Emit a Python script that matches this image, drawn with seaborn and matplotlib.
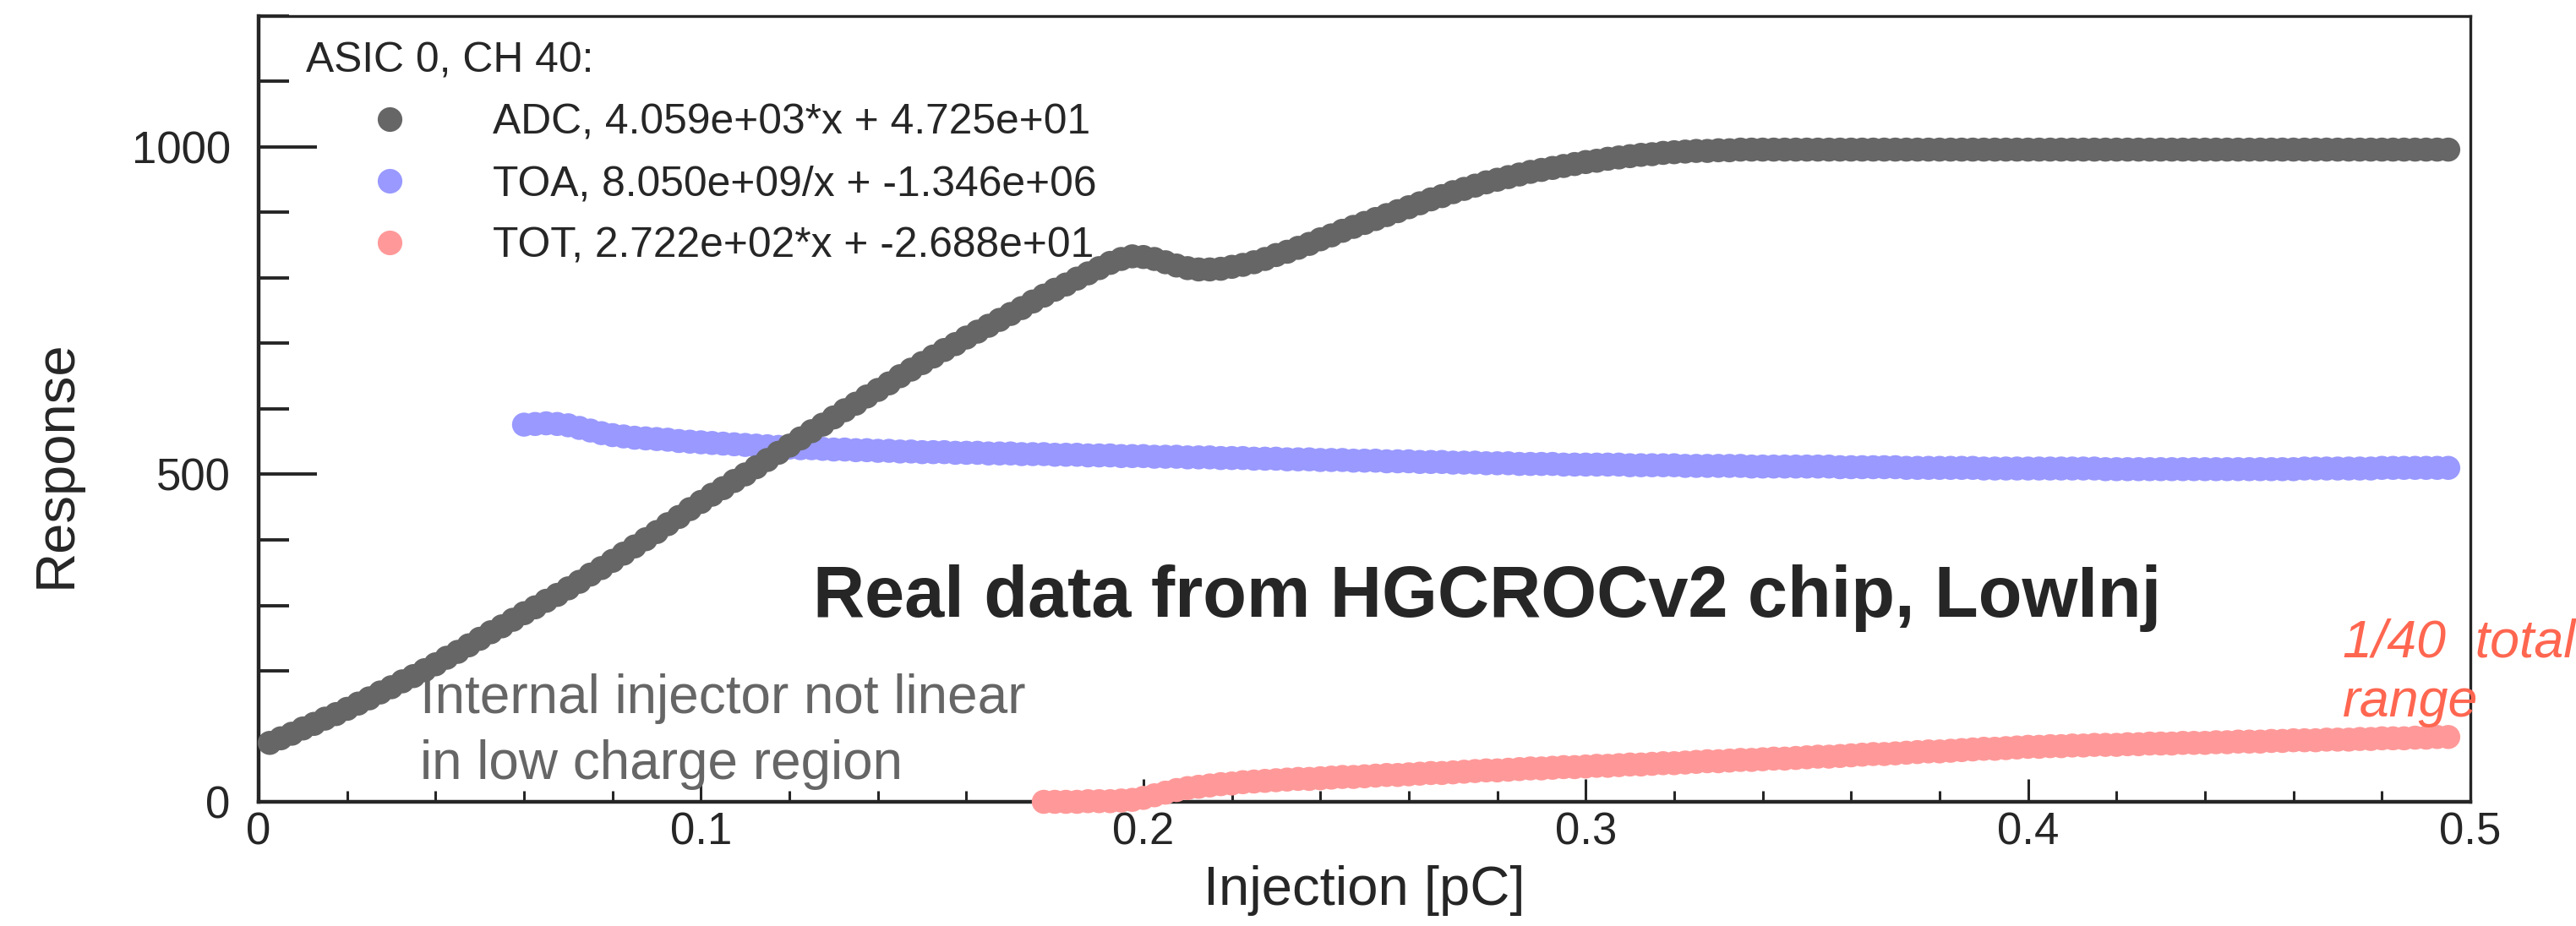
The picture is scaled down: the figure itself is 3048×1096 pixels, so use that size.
import numpy as np
import pandas as pd
import matplotlib
matplotlib.use("Agg")
import matplotlib.pyplot as plt
import seaborn as sns
from matplotlib.lines import Line2D
from matplotlib.ticker import MultipleLocator, FuncFormatter

# injection scan: one point every 0.0025 pC, series start at different scan steps
INJ_STEP = 0.0025

adc_start = 1
adc = [
    90, 97, 104, 112, 119, 127, 134, 142, 150, 158,
    167, 175, 184, 192, 201, 210, 220, 229, 239, 249,
    259, 268, 278, 288, 297, 307, 316, 326, 336, 347,
    357, 368, 379, 390, 401, 412, 424, 435, 447, 458,
    469, 479, 490, 500, 511, 522, 533, 544, 555, 566,
    576, 587, 598, 608, 619, 629, 639, 650, 660, 670,
    680, 690, 699, 709, 718, 727, 736, 745, 754, 764,
    773, 782, 790, 799, 807, 815, 823, 829, 833, 832,
    829, 824, 819, 815, 813, 813, 814, 817, 820, 824,
    829, 835, 840, 846, 852, 859, 865, 872, 878, 884,
    890, 896, 902, 908, 914, 920, 925, 931, 936, 941,
    946, 950, 954, 958, 962, 965, 968, 971, 974, 977,
    979, 982, 984, 986, 988, 989, 991, 992, 993, 994,
    994, 995, 995, 996, 996, 996, 996, 996, 996, 996,
    996, 996, 996, 996, 996, 996, 996, 996, 996, 996,
    996, 996, 996, 996, 996, 996, 996, 996, 996, 996,
    996, 996, 996, 996, 996, 996, 996, 996, 996, 996,
    996, 996, 996, 996, 996, 996, 996, 996, 996, 996,
    996, 996, 996, 996, 996, 996, 996, 996, 996, 996,
    996, 996, 996, 996, 996, 996, 996, 996,
]

toa_start = 24
toa = [
    576, 577, 578, 577, 575, 571, 567, 563, 560, 558,
    556, 555, 554, 553, 551, 550, 549, 548, 547, 546,
    545, 544, 543, 542, 541, 540, 540, 539, 538, 538,
    537, 537, 536, 536, 535, 535, 534, 534, 534, 533,
    533, 533, 532, 532, 532, 531, 531, 531, 530, 530,
    530, 529, 529, 529, 528, 528, 528, 527, 527, 527,
    526, 526, 526, 525, 525, 525, 524, 524, 524, 523,
    523, 523, 522, 522, 522, 521, 521, 521, 520, 520,
    520, 519, 519, 519, 518, 518, 518, 517, 517, 517,
    516, 516, 516, 516, 515, 515, 515,
    515, 515, 515, 514, 514, 514, 514, 514, 513, 513,
    513, 513, 513, 513, 512, 512, 512, 512, 512, 512,
    512, 512, 511, 511, 511, 511, 511, 511, 510, 510,
    510, 510, 510, 510, 510, 509, 509, 509, 509, 509,
    509, 509, 509, 509, 509, 509, 508, 508, 508, 508,
    508, 508, 508, 508, 508, 508, 508, 508, 508, 508,
    508, 508, 508, 508, 509, 509, 509, 509, 509, 509,
    509, 510, 510, 510, 510, 510, 510, 510,
]

tot_start = 71
tot = [
    0, 0, 0, 0, 1, 1, 1, 2, 3, 6,
    10, 14, 18, 21, 23, 25, 27, 28, 30, 31,
    32, 33, 34, 35, 35, 36, 37, 38, 38, 39,
    40, 41, 41, 42, 43, 44, 44, 45, 46, 47,
    48, 48, 49, 50, 51, 51, 52, 53, 53, 54,
    55, 55, 56, 57, 57, 58, 59, 59, 60, 61,
    62, 62, 63, 64, 64, 65, 66, 66, 67, 68,
    69, 69, 70, 71, 72, 73, 73, 74, 75, 76,
    77, 77, 78, 79, 80, 81, 81, 82, 83, 84,
    84, 85, 85, 86, 86, 87, 87, 87, 88, 88,
    89, 89, 89, 90, 90, 90, 91, 91, 92, 92,
    92, 93, 93, 94, 94, 94, 95, 95, 95, 96,
    96, 97, 97, 97, 98, 98, 99, 99,
]

labels = [
    "ADC, 4.059e+03*x + 4.725e+01",
    "TOA, 8.050e+09/x + -1.346e+06",
    "TOT, 2.722e+02*x + -2.688e+01",
]
colors = ["#666666", "#9999ff", "#ff9999"]


def series_frame(start, values, label):
    inj = INJ_STEP * np.arange(start, start + len(values))
    return pd.DataFrame({"Injection": inj, "Response": values, "series": label})


# TOA first and ADC last so the ADC points sit on top where they cross
df = pd.concat([
    series_frame(toa_start, toa, labels[1]),
    series_frame(tot_start, tot, labels[2]),
    series_frame(adc_start, adc, labels[0]),
], ignore_index=True)

sns.set_style("ticks")
plt.rcParams["font.family"] = ["Liberation Sans", "DejaVu Sans"]

fig = plt.figure(figsize=(15.24, 5.48), dpi=200)
ax = fig.add_axes([0.1004, 0.1341, 0.8586, 0.8486])

sns.scatterplot(
    data=df, x="Injection", y="Response", hue="series", hue_order=labels,
    palette=dict(zip(labels, colors)), s=105, linewidth=0, legend=False,
    clip_on=False, zorder=3, ax=ax,
)

ax.set_xlim(0, 0.5)
ax.set_ylim(0, 1200)
ax.xaxis.set_major_locator(MultipleLocator(0.1))
ax.xaxis.set_minor_locator(MultipleLocator(0.02))
ax.yaxis.set_major_locator(MultipleLocator(500))
ax.yaxis.set_minor_locator(MultipleLocator(100))
ax.xaxis.set_major_formatter(FuncFormatter(lambda v, p: f"{v:g}"))

ax.tick_params(axis="y", which="major", direction="in", length=25, width=1.4,
               labelsize=19, pad=12)
ax.tick_params(axis="y", which="minor", direction="in", length=13, width=1.4)
ax.tick_params(axis="x", which="major", direction="in", length=9.7, width=1.1,
               labelsize=19, pad=4)
ax.tick_params(axis="x", which="minor", direction="in", length=4.6, width=1.1)

for side in ["left", "bottom"]:
    ax.spines[side].set_linewidth(1.6)
for side in ["top", "right"]:
    ax.spines[side].set_linewidth(1.2)

ax.set_xlabel("Injection [pC]", fontsize=23.5)
ax.set_ylabel("Response", fontsize=23.5)
ax.xaxis.set_label_coords(0.5, -0.081)
ax.yaxis.set_label_coords(-0.080, 0.43)

handles = [
    Line2D([], [], ls="", marker="o", markersize=10.5, markeredgewidth=0, color=c)
    for c in colors
]
ax.legend(
    handles, labels, title="ASIC 0, CH 40:", loc="upper left",
    bbox_to_anchor=(0.0214, 0.967), frameon=False, borderpad=0,
    borderaxespad=0, handlelength=4.0, handletextpad=0.45, labelspacing=0.54,
    fontsize=17.9, title_fontsize=17.9, alignment="left",
)

ax.text(0.2507, 0.2355, "Real data from HGCROCv2 chip, LowInj",
        transform=ax.transAxes, fontsize=30.5, fontweight="bold",
        ha="left", va="baseline")
# multi-line text: the baseline anchor is the last line's baseline
ax.text(0.0730, 0.029, "Internal injector not linear\nin low charge region",
        transform=ax.transAxes, fontsize=23, color="#666666",
        ha="left", va="baseline", linespacing=1.39)
ax.text(0.9423, 0.1086, "1/40  total\nrange", transform=ax.transAxes,
        fontsize=22.6, style="italic", color="#ff6650",
        ha="left", va="baseline", linespacing=1.25, clip_on=False)

fig.savefig("out.png", dpi=200)
